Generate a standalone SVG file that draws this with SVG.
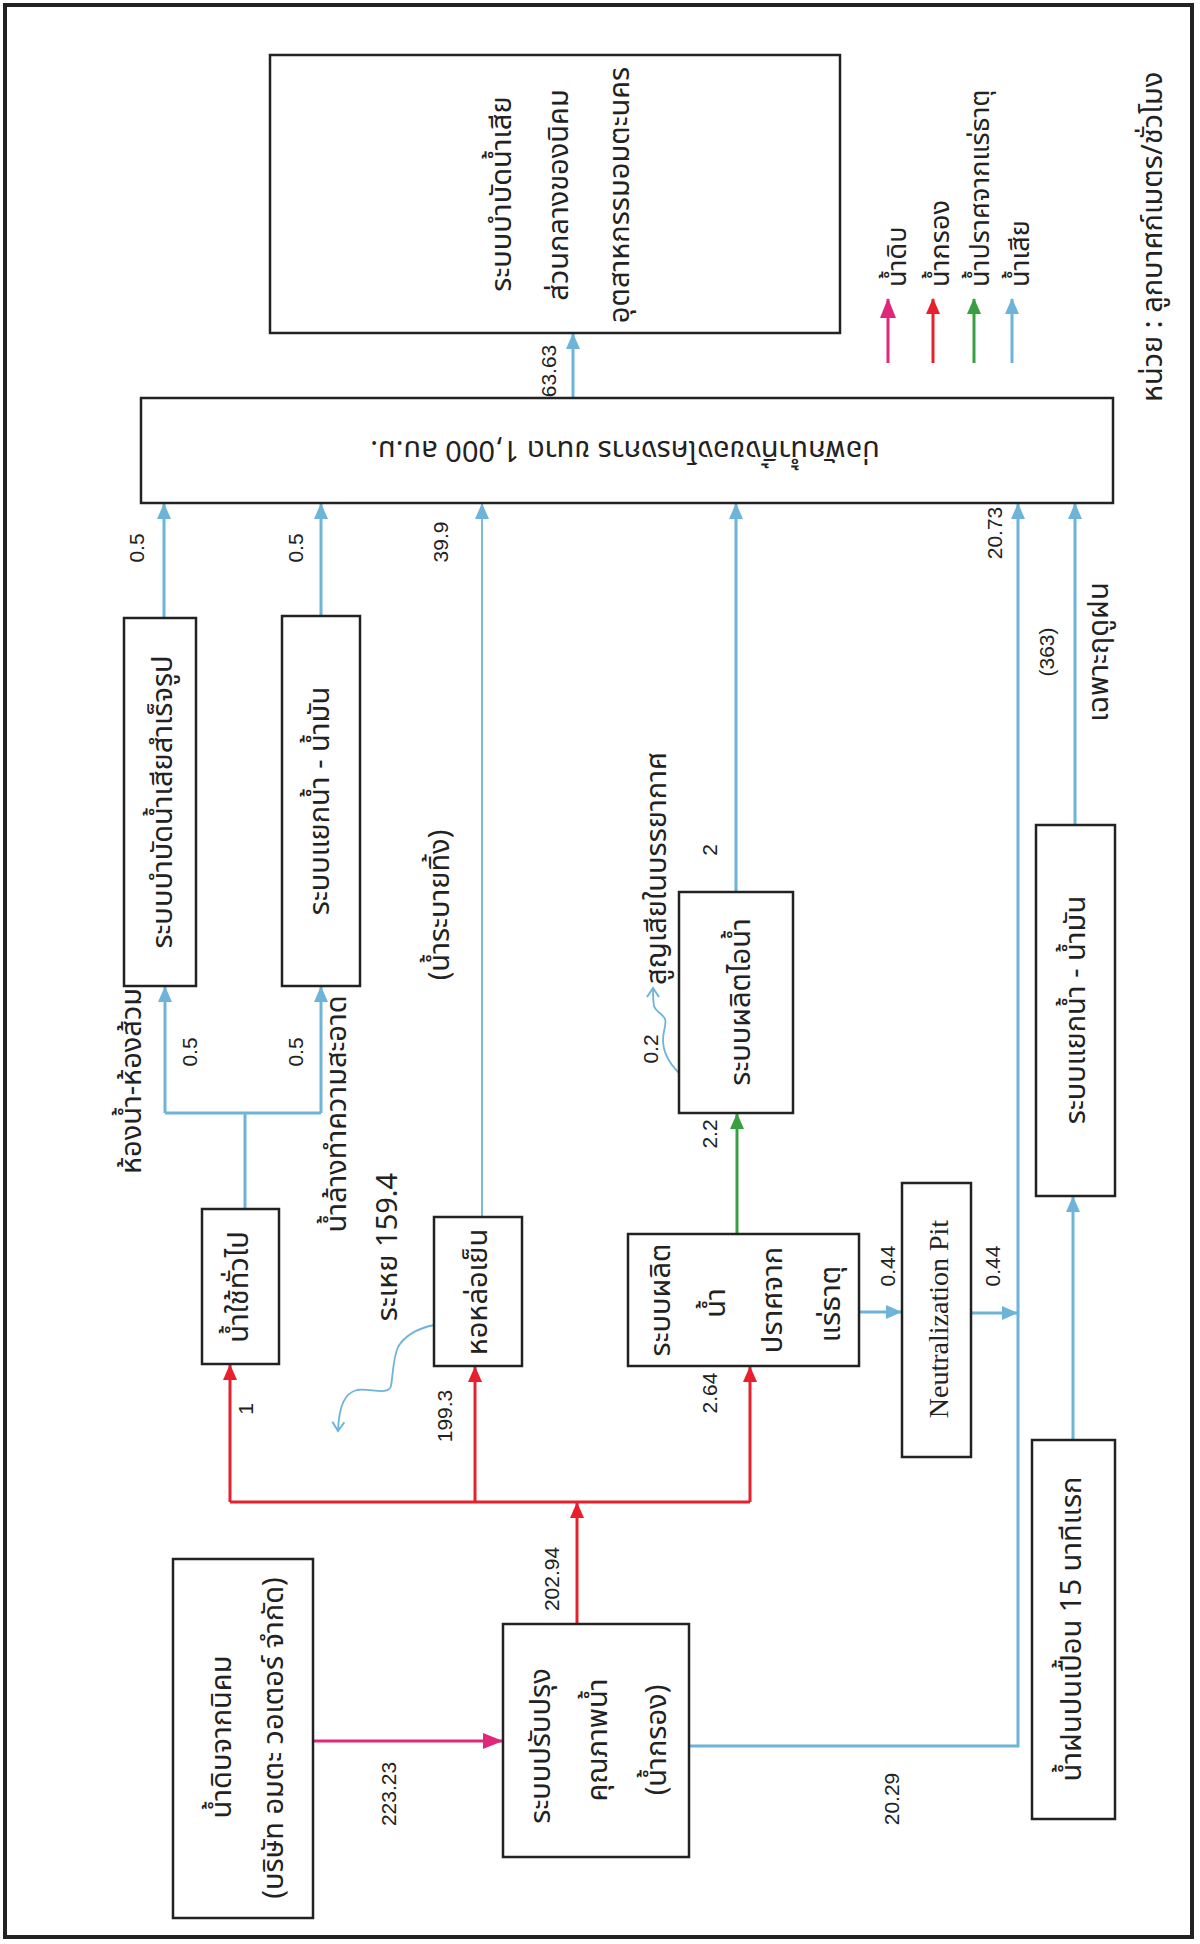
<svg xmlns="http://www.w3.org/2000/svg" width="1200" height="1944" viewBox="0 0 1200 1944">
  <style>
    .box { fill: #ffffff; stroke: #222222; stroke-width: 2.5; }
    .th { font-family: 'Noto Sans Thai', 'Noto Sans Thai Looped', Loma, Garuda, 'Tlwg Typo', 'Noto Sans', 'DejaVu Sans', sans-serif; font-size: 29px; fill: #222222; }
    .lg { font-size: 27px; }
    .num { font-family: 'Liberation Sans', Arial, sans-serif; font-size: 21px; fill: #222222; }
    .en { font-family: 'Liberation Serif', 'Times New Roman', serif; font-size: 28px; fill: #222222; }
    .c { text-anchor: middle; dominant-baseline: central; }
    .s { text-anchor: start; dominant-baseline: central; }
    .blue { fill: none; stroke: #6db4d8; stroke-width: 3; }
    .blue-thin { fill: none; stroke: #6db4d8; stroke-width: 1.8; }
    .red { fill: none; stroke: #e8202e; stroke-width: 3; }
    .green { fill: none; stroke: #38a040; stroke-width: 3; }
    .pink { fill: none; stroke: #e0287a; stroke-width: 3; }
  </style>
  <defs>
    <marker id="ah-blue" markerUnits="userSpaceOnUse" markerWidth="16" markerHeight="14" refX="15" refY="7" orient="auto">
      <path d="M0,0 L16,7 L0,14 Z" fill="#6db4d8"/>
    </marker>
    <marker id="ah-red" markerUnits="userSpaceOnUse" markerWidth="16" markerHeight="14" refX="15" refY="7" orient="auto">
      <path d="M0,0 L16,7 L0,14 Z" fill="#e8202e"/>
    </marker>
    <marker id="ah-green" markerUnits="userSpaceOnUse" markerWidth="16" markerHeight="14" refX="15" refY="7" orient="auto">
      <path d="M0,0 L16,7 L0,14 Z" fill="#38a040"/>
    </marker>
    <marker id="ah-pink" markerUnits="userSpaceOnUse" markerWidth="20" markerHeight="16" refX="19" refY="8" orient="auto">
      <path d="M0,0 L20,8 L0,16 Z" fill="#e0287a"/>
    </marker>
    <marker id="ah-open" markerUnits="userSpaceOnUse" markerWidth="12" markerHeight="14" refX="10" refY="7" orient="auto">
      <path d="M1,1 L10,7 L1,13" fill="none" stroke="#6db4d8" stroke-width="2"/>
    </marker>
  </defs>

  <!-- page frame -->
  <rect x="5" y="5" width="1187" height="1932" fill="#ffffff" stroke="#222222" stroke-width="4"/>

  <!-- connectors -->
  <g id="connectors">
    <!-- raw water supply -->
    <path class="pink" d="M313,1741 H502" marker-end="url(#ah-pink)"/>
    <!-- filtered water distribution -->
    <path class="red" d="M577,1624 V1503" marker-end="url(#ah-red)"/>
    <path class="red" d="M230,1502 H750"/>
    <path class="red" d="M230,1502 V1365" marker-end="url(#ah-red)"/>
    <path class="red" d="M475,1502 V1367" marker-end="url(#ah-red)"/>
    <path class="red" d="M750,1502 V1367" marker-end="url(#ah-red)"/>
    <!-- demineralised water to steam plant -->
    <path class="green" d="M737,1234 V1114" marker-end="url(#ah-green)"/>
    <!-- general use split -->
    <path class="blue" d="M245,1209 V1113 M165,1113 H321"/>
    <path class="blue" d="M165,1113 V987" marker-end="url(#ah-blue)"/>
    <path class="blue" d="M321,1113 V987" marker-end="url(#ah-blue)"/>
    <!-- into effluent pond -->
    <path class="blue" d="M164,618 V504" marker-end="url(#ah-blue)"/>
    <path class="blue" d="M321,616 V504" marker-end="url(#ah-blue)"/>
    <path class="blue-thin" d="M482,1217 V504" marker-end="url(#ah-blue)"/>
    <path class="blue" d="M736,892 V504" marker-end="url(#ah-blue)"/>
    <path class="blue" d="M689,1746 H1018 V504" marker-end="url(#ah-blue)"/>
    <path class="blue" d="M1075,825 V504" marker-end="url(#ah-blue)"/>
    <!-- pond to central treatment -->
    <path class="blue" d="M573,398 V334" marker-end="url(#ah-blue)"/>
    <!-- neutralization -->
    <path class="blue" d="M859,1312 H901" marker-end="url(#ah-blue)"/>
    <path class="blue" d="M971,1313 H1017" marker-end="url(#ah-blue)"/>
    <!-- first-flush rainwater -->
    <path class="blue" d="M1073,1440 V1197" marker-end="url(#ah-blue)"/>
    <!-- evaporation losses -->
    <path class="blue-thin" d="M434,1325 C420,1328 405,1335 398,1347 C393,1358 393,1375 391,1386 C388,1396 370,1388 357,1390 C345,1393 339,1405 338,1431" marker-end="url(#ah-open)"/>
    <path class="blue-thin" d="M679,1073 C670,1064 663,1052 663,1040 C663,1030 667,1024 665,1019 C663,1014 656,1012 654,1006 C653,1000 653,995 653,988" marker-end="url(#ah-open)"/>
    <!-- legend arrows -->
    <path class="pink" d="M888,363 V299" marker-end="url(#ah-pink)"/>
    <path class="red" d="M933,363 V299" marker-end="url(#ah-red)"/>
    <path class="green" d="M974,363 V299" marker-end="url(#ah-green)"/>
    <path class="blue" d="M1012,363 V299" marker-end="url(#ah-blue)"/>
  </g>

  <!-- central treatment plant -->
  <g id="node-central-wwtp">
    <rect class="box" x="270" y="55" width="570" height="278"/>
    <text class="th c" transform="translate(502,194) rotate(-90)">ระบบบำบัดน้ำเสีย</text>
    <text class="th c" transform="translate(559,195) rotate(-90)">ส่วนกลางของนิคม</text>
    <text class="th c" transform="translate(620,195) rotate(-90)">อุตสาหกรรมอมตะนคร</text>
  </g>

  <!-- effluent holding pond -->
  <g id="node-pond">
    <rect class="box" x="141" y="398" width="972" height="105"/>
    <text class="th c" transform="translate(625,450) rotate(180)">บ่อพักน้ำทิ้งของโครงการ ขนาด 1,000 ลบ.ม.</text>
  </g>

  <g id="node-package-wwtp">
    <rect class="box" x="124" y="618" width="72" height="368"/>
    <text class="th c" transform="translate(163,802) rotate(-90)">ระบบบำบัดน้ำเสียสำเร็จรูป</text>
  </g>

  <g id="node-oil-sep-1">
    <rect class="box" x="282" y="616" width="78" height="370"/>
    <text class="th c" transform="translate(320,801) rotate(-90)">ระบบแยกน้ำ - น้ำมัน</text>
  </g>

  <g id="node-general-use">
    <rect class="box" x="202" y="1209" width="77" height="155"/>
    <text class="th c" transform="translate(239,1287) rotate(-90)">น้ำใช้ทั่วไป</text>
  </g>

  <g id="node-cooling-tower">
    <rect class="box" x="434" y="1217" width="88" height="149"/>
    <text class="th c" transform="translate(478,1292) rotate(-90)">หอหล่อเย็น</text>
  </g>

  <g id="node-steam">
    <rect class="box" x="679" y="892" width="114" height="221"/>
    <text class="th c" transform="translate(741,1002) rotate(-90)">ระบบผลิตไอน้ำ</text>
  </g>

  <g id="node-demin">
    <rect class="box" x="628" y="1234" width="231" height="132"/>
    <text class="th c" transform="translate(661,1300) rotate(-90)">ระบบผลิต</text>
    <text class="th c" transform="translate(716,1303) rotate(-90)">น้ำ</text>
    <text class="th c" transform="translate(773,1300) rotate(-90)">ปราศจาก</text>
    <text class="th c" transform="translate(831,1304) rotate(-90)">แร่ธาตุ</text>
  </g>

  <g id="node-neutralization">
    <rect class="box" x="902" y="1183" width="69" height="274"/>
    <text class="en c" transform="translate(938,1319) rotate(-90)">Neutralization Pit</text>
  </g>

  <g id="node-oil-sep-2">
    <rect class="box" x="1036" y="825" width="79" height="371"/>
    <text class="th c" transform="translate(1076,1010) rotate(-90)">ระบบแยกน้ำ - น้ำมัน</text>
  </g>

  <g id="node-rainwater">
    <rect class="box" x="1032" y="1440" width="83" height="379"/>
    <text class="th c" transform="translate(1072,1629) rotate(-90)">น้ำฝนปนเปื้อน 15 นาทีแรก</text>
  </g>

  <g id="node-raw-water">
    <rect class="box" x="173" y="1559" width="140" height="359"/>
    <text class="th c" transform="translate(222,1737) rotate(-90)">น้ำดิบจากนิคม</text>
    <text class="th c" transform="translate(274,1738) rotate(-90)">(บริษัท อมตะ วอเตอร์ จำกัด)</text>
  </g>

  <g id="node-water-treatment">
    <rect class="box" x="503" y="1624" width="186" height="233"/>
    <text class="th c" transform="translate(541,1746) rotate(-90)">ระบบปรับปรุง</text>
    <text class="th c" transform="translate(598,1740) rotate(-90)">คุณภาพน้ำ</text>
    <text class="th c" transform="translate(657,1740) rotate(-90)">(น้ำกรอง)</text>
  </g>

  <!-- flow labels -->
  <g id="labels">
    <text class="num c" transform="translate(548,371) rotate(-90)">63.63</text>
    <text class="num c" transform="translate(136,548) rotate(-90)">0.5</text>
    <text class="num c" transform="translate(295,548) rotate(-90)">0.5</text>
    <text class="num c" transform="translate(440,542) rotate(-90)">39.9</text>
    <text class="th c" transform="translate(440,905) rotate(-90)">(น้ำระบายทิ้ง)</text>
    <text class="th c" transform="translate(132,1081) rotate(-90)">ห้องน้ำ-ห้องส้วม</text>
    <text class="num c" transform="translate(189,1052) rotate(-90)">0.5</text>
    <text class="num c" transform="translate(295,1052) rotate(-90)">0.5</text>
    <text class="th c" transform="translate(337,1114) rotate(-90)">น้ำล้างทำความสะอาด</text>
    <text class="num c" transform="translate(245,1409) rotate(-90)">1</text>
    <text class="th c" transform="translate(388,1247) rotate(-90)">ระเหย 159.4</text>
    <text class="num c" transform="translate(444,1416) rotate(-90)">199.3</text>
    <text class="num c" transform="translate(551,1579) rotate(-90)">202.94</text>
    <text class="num c" transform="translate(388,1794) rotate(-90)">223.23</text>
    <text class="num c" transform="translate(891,1799) rotate(-90)">20.29</text>
    <text class="num c" transform="translate(709,1393) rotate(-90)">2.64</text>
    <text class="num c" transform="translate(709,1134) rotate(-90)">2.2</text>
    <text class="num c" transform="translate(650,1049) rotate(-90)">0.2</text>
    <text class="th s" transform="translate(657,985) rotate(-90)">สูญเสียในบรรยากาศ</text>
    <text class="num c" transform="translate(709,850) rotate(-90)">2</text>
    <text class="num c" transform="translate(887,1266) rotate(-90)">0.44</text>
    <text class="num c" transform="translate(992,1266) rotate(-90)">0.44</text>
    <text class="num c" transform="translate(994,533) rotate(-90)">20.73</text>
    <text class="num c" transform="translate(1046,652) rotate(-90)">(363)</text>
    <text class="th c" transform="translate(1099,652) rotate(-90)">เฉพาะฤดูฝน</text>
  </g>

  <!-- legend -->
  <g id="legend">
    <text class="th lg s" transform="translate(897,287) rotate(-90)">น้ำดิบ</text>
    <text class="th lg s" transform="translate(940,287) rotate(-90)">น้ำกรอง</text>
    <text class="th lg s" transform="translate(980,287) rotate(-90)">น้ำปราศจากแร่ธาตุ</text>
    <text class="th lg s" transform="translate(1020,287) rotate(-90)">น้ำเสีย</text>
    <text class="th s" transform="translate(1153,402) rotate(-90)">หน่วย : ลูกบาศก์เมตร/ชั่วโมง</text>
  </g>
</svg>
